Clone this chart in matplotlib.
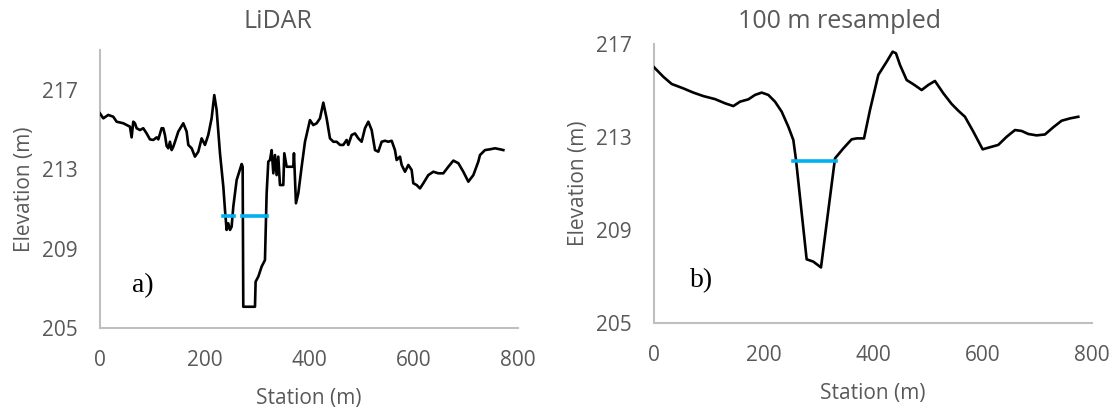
import matplotlib
matplotlib.use('Agg')
import matplotlib.pyplot as plt

# LiDAR profile (station m, elevation m)
lidar_x = [0, 6.4, 15.9, 25.5, 31.9, 44.7, 57.4, 60.6, 63.8, 67.0, 70.2, 76.6, 82.9, 89.3, 95.7,
           102.1, 108.5, 111.7, 118.0, 121.2, 124.4, 127.6, 130.8, 134.0, 137.2, 140.4, 143.6,
           149.9, 159.5, 165.9, 169.1, 175.5, 181.8, 188.2, 194.6, 201.0, 207.3, 213.7, 218.8,
           223.3, 229.7, 236.1, 239.3, 242.4, 245.6, 248.8, 252.0, 255.2, 261.6, 271.2, 273.1,
           274.3, 296.7, 297.9, 303.1, 309.4, 315.8, 319.0, 322.2, 325.4, 328.6, 331.8, 335.0,
           338.1, 341.3, 344.5, 350.9, 352.8, 357.3, 363.7, 370.0, 371.3, 375.1, 379.6, 386.0,
           392.4, 401.9, 408.3, 414.7, 421.1, 427.5, 433.8, 440.2, 446.6, 453.0, 459.4, 465.7,
           472.1, 475.3, 481.7, 488.1, 494.4, 500.8, 507.2, 513.6, 520.0, 526.4, 532.7, 539.1,
           545.5, 551.9, 558.3, 564.6, 567.8, 574.2, 577.4, 583.8, 590.2, 596.5, 599.7, 606.1,
           612.5, 618.9, 628.4, 638.0, 647.6, 657.1, 666.7, 676.3, 685.9, 695.4, 705.0, 714.6,
           724.1, 727.3, 736.9, 746.5, 756.0, 765.6, 772.0]
lidar_z = [215.81, 215.56, 215.73, 215.64, 215.39, 215.31, 215.14, 214.60, 215.39, 215.31, 215.06,
           214.97, 215.06, 214.80, 214.50, 214.47, 214.60, 214.50, 215.06, 215.06, 214.72, 214.17,
           214.05, 214.38, 213.96, 214.13, 214.38, 214.89, 215.31, 214.89, 214.22, 214.05, 213.63,
           213.88, 214.55, 214.22, 214.72, 215.56, 216.73, 215.98, 213.80, 212.12, 210.94, 209.94,
           210.27, 209.94, 210.10, 211.11, 212.45, 213.26, 213.12, 206.07, 206.07, 207.33, 207.59,
           208.09, 208.42, 211.78, 213.38, 213.46, 213.96, 212.79, 213.71, 212.70, 213.63, 212.20,
           212.20, 213.80, 213.12, 213.12, 213.12, 213.80, 211.28, 211.78, 213.12, 214.38, 215.47,
           215.22, 215.31, 215.56, 216.35, 215.56, 214.55, 214.38, 214.38, 214.22, 214.22, 214.47,
           214.22, 214.72, 214.80, 214.55, 214.38, 215.06, 215.39, 214.97, 213.96, 213.88, 214.38,
           214.43, 214.38, 214.43, 213.96, 213.46, 213.63, 213.21, 212.87, 213.21, 212.96, 212.29,
           212.20, 212.03, 212.29, 212.70, 212.87, 212.79, 212.79, 213.12, 213.43, 213.30, 212.87,
           212.37, 212.70, 213.38, 213.71, 213.96, 214.00, 214.05, 214.00, 213.96]

# 100 m resampled profile
res_x = [0, 17.0, 32.3, 53.6, 71.8, 90.1, 111.4, 129.7, 144.9, 157.1, 172.3, 184.5, 196.7, 208.8,
         221.0, 233.2, 245.4, 254.5, 259.4, 278.8, 291.0, 305.0, 330.6, 345.8, 361.0, 370.2,
         383.6, 394.5, 409.7, 425.0, 435.9, 442.0, 449.3, 461.5, 473.7, 488.9, 501.1, 513.2,
         528.5, 543.7, 555.9, 568.0, 583.3, 600.3, 613.7, 628.9, 644.2, 659.4, 671.5, 683.7,
         698.9, 714.2, 729.4, 744.6, 759.8, 775.0]
res_z = [216.00, 215.59, 215.28, 215.09, 214.91, 214.76, 214.63, 214.45, 214.33, 214.52, 214.62,
         214.81, 214.91, 214.81, 214.52, 214.09, 213.44, 212.87, 212.01, 207.74, 207.64, 207.39,
         212.08, 212.51, 212.90, 212.94, 212.94, 214.16, 215.67, 216.24, 216.67, 216.60, 216.10,
         215.45, 215.27, 215.02, 215.24, 215.41, 214.88, 214.42, 214.13, 213.87, 213.23, 212.47,
         212.56, 212.66, 213.01, 213.30, 213.26, 213.13, 213.07, 213.11, 213.42, 213.70, 213.80,
         213.87]

# water surface segments
lidar_ws = [(236.1, 256.6), (271.2, 319.0)]
lidar_ws_z = 210.64
res_ws = (254.5, 332.1)
res_ws_z = 211.97

titles = ['LiDAR', '100 m resampled']
panel_tags = ['a)', 'b)']
xticks = [0, 200, 400, 600, 800]
yticks = [205, 209, 213, 217]

grey = '#595959'
spine_c = '#bfbfbf'
blue = '#00b0f0'
plt.rcParams['font.family'] = ['Open Sans', 'DejaVu Sans']

fig = plt.figure(figsize=(11.18, 4.12), dpi=100)
ax1 = fig.add_axes([0.0894, 0.2039, 0.3739, 0.6747])
ax2 = fig.add_axes([0.585, 0.216, 0.3917, 0.6772])

ax1.plot(lidar_x, lidar_z, color='black', lw=1.9, zorder=3)
for a, b in lidar_ws:
    ax1.plot([a, b], [lidar_ws_z, lidar_ws_z], color=blue, lw=2.6, zorder=4)
ax1.set_ylim(205, 219)

ax2.plot(res_x, res_z, color='black', lw=1.9, zorder=3)
ax2.plot(list(res_ws), [res_ws_z, res_ws_z], color=blue, lw=2.6, zorder=4)
ax2.set_ylim(205, 217)

for ax, tag, tpos in [(ax1, panel_tags[0], (143, 286)), (ax2, panel_tags[1], (702, 281))]:
    ax.set_xlim(0, 800)
    ax.set_xticks(xticks)
    ax.set_yticks(yticks)
    for s in ['top', 'right']:
        ax.spines[s].set_visible(False)
    for s in ['left', 'bottom']:
        ax.spines[s].set_color(spine_c)
        ax.spines[s].set_linewidth(1.5)
    ax.tick_params(length=0, labelsize=15, labelcolor=grey)
    ax.tick_params(axis='x', pad=16)
    ax.tick_params(axis='y', pad=16)
    ax.set_xlabel('Station (m)', fontsize=15, color=grey, labelpad=12)
    ax.set_ylabel('Elevation (m)', fontsize=15, color=grey, labelpad=5)
    fig.text(tpos[0] / 1118, 1 - tpos[1] / 412, tag, fontsize=20, family='Liberation Serif',
             ha='center', va='center', color='black')

fig.text(278 / 1118, 1 - 22 / 412, titles[0], fontsize=18, color=grey, ha='center', va='center')
fig.text(839 / 1118, 1 - 22 / 412, titles[1], fontsize=18, color=grey, ha='center', va='center')

fig.savefig('out.png', dpi=100)
